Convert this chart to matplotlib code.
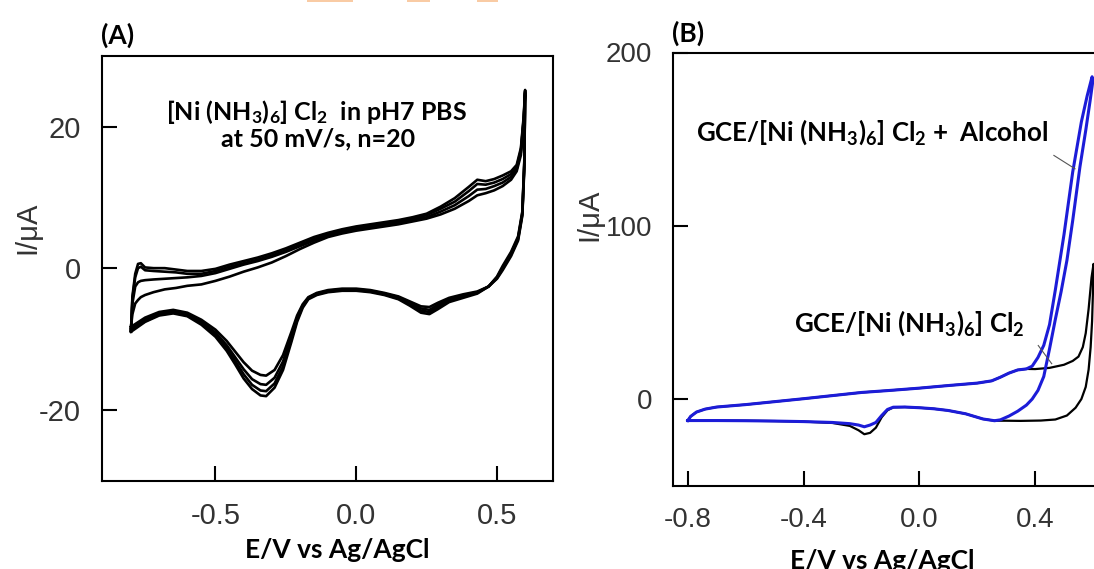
import numpy as np
import matplotlib
matplotlib.use('Agg')
import matplotlib.pyplot as plt

plt.rcParams['mathtext.fontset'] = 'custom'
plt.rcParams['mathtext.rm'] = 'Lato:bold'
plt.rcParams['mathtext.it'] = 'Lato:bold'
plt.rcParams['mathtext.bf'] = 'Lato:bold'

# ---------------- panel A: 20 cycles of [Ni(NH3)6]Cl2 in PBS ----------------
E_fwd_A = [-0.800, -0.795, -0.785, -0.775, -0.765, -0.750, -0.720, -0.680, -0.640, -0.600,
           -0.550, -0.500, -0.450, -0.400, -0.350, -0.300, -0.250, -0.200, -0.150, -0.100,
           -0.050, 0.000, 0.050, 0.100, 0.150, 0.200, 0.250, 0.300, 0.350, 0.400,
           0.430, 0.460, 0.490, 0.520, 0.550, 0.570, 0.585, 0.595, 0.600]
I_fwd_c1 = [-8.3, -6.5, -5.0, -4.5, -4.1, -3.8, -3.4, -3.0, -2.8, -2.5,
            -2.3, -1.8, -1.2, -0.5, 0.1, 0.8, 1.7, 2.7, 3.6, 4.4,
            4.9, 5.3, 5.6, 5.9, 6.2, 6.6, 7.0, 7.6, 8.4, 9.5,
            10.3, 10.6, 11.0, 11.6, 12.5, 13.7, 16.0, 20.7, 24.5]
I_fwd_c2 = [-8.6, -5.0, -2.6, -2.0, -1.8, -1.7, -1.6, -1.5, -1.4, -1.3,
            -1.1, -0.7, -0.1, 0.5, 1.0, 1.6, 2.3, 3.1, 3.9, 4.6,
            5.1, 5.5, 5.8, 6.1, 6.4, 6.8, 7.2, 8.0, 8.9, 10.2,
            11.1, 11.2, 11.6, 12.1, 12.9, 14.0, 16.4, 21.0, 24.8]
I_fwd_c10 = [-8.8, -4.3, -1.3, 0.0, 0.2, -0.3, -0.4, -0.5, -0.6, -0.8,
             -0.8, -0.4, 0.2, 0.7, 1.2, 1.8, 2.5, 3.3, 4.1, 4.8,
             5.3, 5.7, 6.0, 6.3, 6.6, 7.0, 7.5, 8.4, 9.4, 10.9,
             11.9, 11.8, 12.1, 12.6, 13.3, 14.3, 16.7, 21.2, 25.0]
I_fwd_c20 = [-9.0, -4.0, -0.8, 0.6, 0.7, 0.1, 0.0, 0.0, -0.2, -0.4,
             -0.4, -0.1, 0.5, 1.0, 1.5, 2.1, 2.8, 3.6, 4.4, 5.0,
             5.5, 5.9, 6.2, 6.5, 6.8, 7.2, 7.7, 8.7, 9.9, 11.5,
             12.5, 12.3, 12.6, 13.1, 13.7, 14.6, 17.0, 21.5, 25.2]

E_rev_A = [0.600, 0.597, 0.590, 0.575, 0.550, 0.520, 0.500, 0.470, 0.430, 0.380,
           0.330, 0.290, 0.260, 0.230, 0.190, 0.150, 0.100, 0.050, 0.000, -0.050,
           -0.100, -0.140, -0.170, -0.190, -0.210, -0.230, -0.260, -0.290, -0.320, -0.340,
           -0.370, -0.400, -0.430, -0.460, -0.500, -0.550, -0.600, -0.650, -0.700, -0.750,
           -0.800]
I_rev_c1 = [24.5, 14.0, 7.4, 3.9, 1.7, -0.3, -1.5, -2.6, -3.3, -3.7,
            -4.2, -4.9, -5.5, -5.4, -4.7, -4.0, -3.5, -3.1, -2.9, -2.9,
            -3.1, -3.5, -4.1, -5.1, -6.7, -9.0, -12.3, -14.4, -15.2, -15.1,
            -14.5, -13.3, -11.8, -10.3, -8.7, -7.3, -6.3, -5.9, -6.2, -7.0,
            -8.3]
I_rev_c2 = [24.8, 14.5, 7.6, 4.1, 1.9, -0.1, -1.4, -2.6, -3.4, -3.9,
            -4.4, -5.2, -5.9, -5.7, -4.9, -4.1, -3.6, -3.2, -3.0, -3.0,
            -3.2, -3.6, -4.2, -5.3, -7.0, -9.5, -13.2, -15.5, -16.5, -16.4,
            -15.7, -14.3, -12.6, -10.9, -9.1, -7.6, -6.5, -6.1, -6.4, -7.2,
            -8.6]
I_rev_c10 = [25.0, 14.8, 7.8, 4.3, 2.1, 0.1, -1.3, -2.6, -3.5, -4.0,
             -4.6, -5.5, -6.2, -6.0, -5.1, -4.3, -3.7, -3.3, -3.1, -3.1,
             -3.3, -3.7, -4.3, -5.4, -7.3, -10.0, -13.9, -16.3, -17.4, -17.3,
             -16.5, -15.0, -13.1, -11.3, -9.4, -7.8, -6.7, -6.3, -6.6, -7.5,
             -8.8]
I_rev_c20 = [25.2, 15.0, 8.0, 4.5, 2.3, 0.3, -1.2, -2.6, -3.6, -4.2,
             -4.8, -5.8, -6.5, -6.3, -5.3, -4.4, -3.8, -3.4, -3.2, -3.2,
             -3.4, -3.8, -4.4, -5.6, -7.6, -10.4, -14.4, -16.9, -18.1, -18.0,
             -17.1, -15.6, -13.6, -11.7, -9.7, -8.0, -6.8, -6.4, -6.7, -7.6,
             -9.0]

# ---------------- panel B: with / without alcohol ----------------
E_fwd_B = [-0.80, -0.79, -0.77, -0.74, -0.70, -0.60, -0.50, -0.40, -0.30, -0.20,
           -0.10, 0.00, 0.10, 0.20, 0.25, 0.28, 0.31, 0.34, 0.37]
I_fwd_B = [-12.4, -10.0, -7.5, -5.8, -4.6, -3.2, -1.5, 0.2, 2.0, 3.8,
           5.0, 6.3, 7.8, 9.2, 10.5, 12.6, 15.0, 16.8, 17.4]

E_fwd_alc = [0.39, 0.41, 0.43, 0.45, 0.47, 0.50, 0.53, 0.56, 0.58, 0.597]
I_fwd_alc = [19.0, 24.0, 31.0, 43.0, 63.0, 95.0, 131.0, 160.0, 175.0, 186.0]
E_rev_alc = [0.600, 0.590, 0.575, 0.555, 0.530, 0.510, 0.490, 0.470, 0.450, 0.430,
             0.410, 0.390, 0.370, 0.340, 0.310, 0.280, 0.260, 0.220, 0.160, 0.100,
             0.050, 0.000, -0.050, -0.090, -0.110, -0.130, -0.150, -0.170, -0.190, -0.210,
             -0.240, -0.300, -0.400, -0.500, -0.600, -0.700, -0.760, -0.800]
I_rev_alc = [184.0, 172.0, 155.0, 134.0, 103.0, 80.0, 62.0, 46.0, 29.0, 13.0,
             5.0, 0.0, -3.5, -7.0, -9.8, -12.0, -12.5, -11.5, -8.5, -6.6,
             -5.6, -5.0, -4.6, -4.7, -6.0, -9.5, -13.5, -15.0, -16.0, -15.0,
             -14.2, -13.5, -13.0, -12.7, -12.5, -12.4, -12.4, -12.4]

E_fwd_blank = [0.40, 0.45, 0.50, 0.53, 0.55, 0.565, 0.575, 0.585, 0.595, 0.602]
I_fwd_blank = [17.3, 18.0, 19.8, 22.0, 24.5, 30.0, 38.0, 52.0, 70.0, 78.0]
E_rev_blank = [0.602, 0.600, 0.597, 0.592, 0.585, 0.575, 0.560, 0.540, 0.510, 0.470,
               0.420, 0.350, 0.300, 0.260, 0.220, 0.160, 0.100, 0.050, 0.000, -0.050,
               -0.090, -0.110, -0.130, -0.150, -0.170, -0.190, -0.210, -0.240, -0.300, -0.400,
               -0.500, -0.600, -0.700, -0.760, -0.800]
I_rev_blank = [78.0, 62.0, 45.0, 30.0, 17.0, 7.0, 0.0, -5.0, -9.5, -11.8,
               -12.4, -12.6, -12.5, -12.5, -11.5, -8.5, -6.6, -5.6, -5.0, -4.6,
               -4.8, -6.5, -10.5, -16.5, -19.5, -20.3, -18.0, -15.5, -13.8, -13.0,
               -12.7, -12.5, -12.4, -12.4, -12.4]

# cropped orange heading fragments along the top edge (pixel spans)
header_spans = [(307, 353), (407, 430), (477, 498)]

TICK_FONT = dict(family='Liberation Sans', size=21, color='#333333')
BOLD_FONT = dict(family='Lato', weight='bold', color='black')


def style_axes(ax, labelsize):
    for side in ['left', 'bottom', 'top', 'right']:
        ax.spines[side].set_linewidth(1.5)
    ax.tick_params(direction='in', length=11, width=1.5, top=False, right=False, pad=15,
                   labelsize=labelsize, labelcolor=TICK_FONT['color'])
    for lab in ax.get_xticklabels() + ax.get_yticklabels():
        lab.set_family(TICK_FONT['family'])


fig = plt.figure(figsize=(10.94, 5.69), dpi=100)
W, H = 1094.0, 569.0

# ---- panel A ----
axA = fig.add_axes([102 / W, 1 - 481 / H, 451 / W, 425 / H])
for I_f, I_r in [(I_fwd_c1, I_rev_c1), (I_fwd_c2, I_rev_c2),
                 (I_fwd_c10, I_rev_c10), (I_fwd_c20, I_rev_c20)]:
    axA.plot(E_fwd_A + E_rev_A, I_f + I_r, color='black', lw=1.9)
axA.set_xlim(-0.903, 0.699)
axA.set_ylim(-30.1, 30)
axA.set_xticks([-0.5, 0.0, 0.5])
axA.set_xticklabels(['-0.5', '0.0', '0.5'])
axA.set_yticks([-20, 0, 20])
axA.set_yticklabels(['-20', '0', '20'])
style_axes(axA, 21)
axA.text(-0.142, 22.1, r'[Ni (NH$_3$)$_6$] Cl$_2$  in pH7 PBS', ha='center', va='center',
         fontsize=18, **BOLD_FONT)
axA.text(-0.135, 18.3, 'at 50 mV/s, n=20', ha='center', va='center', fontsize=18, **BOLD_FONT)

# ---- panel B ----
axB = fig.add_axes([673.3 / W, 1 - 485.7 / H, 448.6 / W, 433.2 / H])
axB.plot(E_fwd_B + E_fwd_blank + E_rev_blank, I_fwd_B + I_fwd_blank + I_rev_blank,
         color='black', lw=1.6)
axB.plot(E_fwd_B + E_fwd_alc + E_rev_alc, I_fwd_B + I_fwd_alc + I_rev_alc,
         color='#1c1cd8', lw=2.2)
axB.set_xlim(-0.85, 0.70)
axB.set_ylim(-50, 200)
axB.set_xticks([-0.8, -0.4, 0.0, 0.4])
axB.set_xticklabels(['-0.8', '-0.4', '0.0', '0.4'])
axB.set_yticks([0, 100, 200])
axB.set_yticklabels(['0', '100', '200'])
style_axes(axB, 20)
axB.text(-0.164, 154.0, r'GCE/[Ni (NH$_3$)$_6$] Cl$_2$ +  Alcohol', ha='center', va='center',
         fontsize=18.6, **BOLD_FONT)
axB.text(-0.036, 43.5, r'GCE/[Ni (NH$_3$)$_6$] Cl$_2$', ha='center', va='center',
         fontsize=18.6, **BOLD_FONT)
axB.plot([0.465, 0.538], [140.6, 132.9], color='#555555', lw=0.8)
axB.plot([0.411, 0.4575], [30.9, 20.4], color='#555555', lw=0.8)

# ---- labels placed in figure pixels ----
fig.text(337 / W, 1 - 550 / H, 'E/V vs Ag/AgCl', ha='center', va='center', fontsize=19, **BOLD_FONT)
fig.text(882 / W, 1 - 561 / H, 'E/V vs Ag/AgCl', ha='center', va='center', fontsize=19, **BOLD_FONT)
fig.text(27 / W, 1 - 228 / H, 'I/\u03bcA', rotation=90, ha='center', va='center',
         family='Liberation Sans', fontsize=21, color='#333333')
fig.text(589 / W, 1 - 215 / H, 'I/\u03bcA', rotation=90, ha='center', va='center',
         family='Liberation Sans', fontsize=21, color='#333333')
fig.text(101 / W, 1 - 35 / H, '(A)', ha='left', va='center', fontsize=19, **BOLD_FONT)
fig.text(672 / W, 1 - 33 / H, '(B)', ha='left', va='center', fontsize=19, **BOLD_FONT)

# thin strip axes along the very top for the cropped orange fragments
ax_top = fig.add_axes([0, 1 - 2 / H, 1, 2 / H])
ax_top.set_xlim(0, W)
ax_top.set_ylim(0, 1)
ax_top.axis('off')
for x0, x1 in header_spans:
    ax_top.axvspan(x0, x1, color='#f9cba4', lw=0)

plt.savefig('out.png', dpi=100)
